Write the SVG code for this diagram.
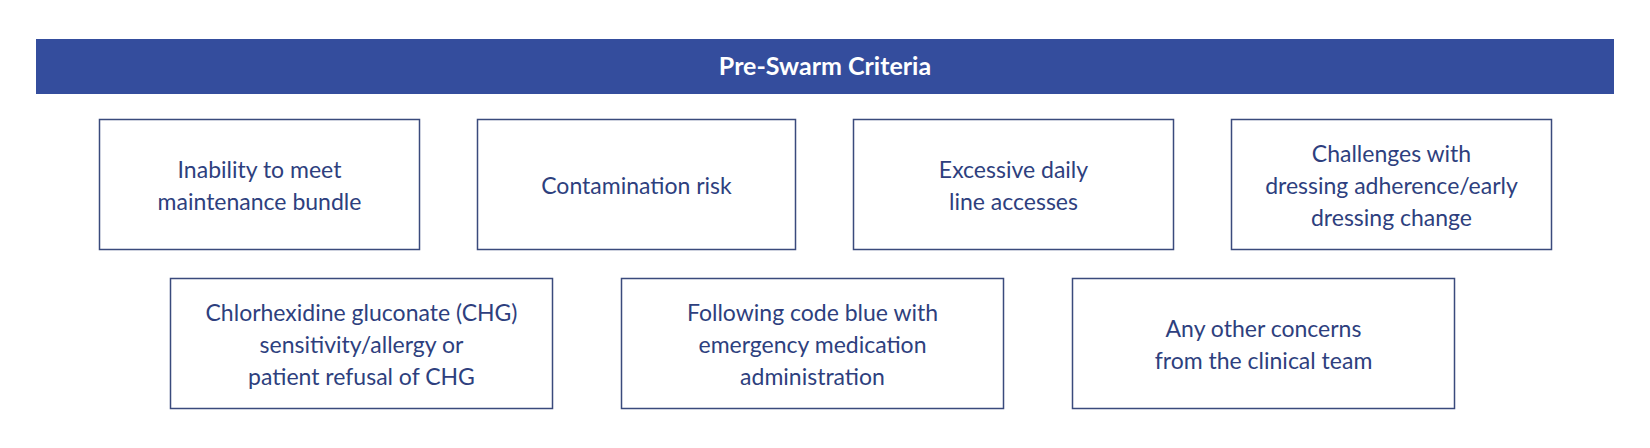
<svg xmlns="http://www.w3.org/2000/svg" width="1650" height="448" viewBox="0 0 1650 448">
<style>
.b{fill:#fff;stroke:#3a4a7c;stroke-width:1.5}
.t{font-family:Lato,"Liberation Sans",sans-serif;font-size:23px;fill:#2e3f7e;text-anchor:middle}
.h{font-family:Lato,"Liberation Sans",sans-serif;font-size:25px;font-weight:bold;fill:#fff;text-anchor:middle}
</style>
<rect width="1650" height="448" fill="#fff"/>
<g id="header"><rect x="36" y="39" width="1578" height="55" fill="#344d9d"/><text class="h" x="825" y="75">Pre-Swarm Criteria</text></g>
<g id="n1"><rect class="b" x="99.5" y="119.5" width="320" height="130"/><text class="t" x="259.5" y="178">Inability to meet</text><text class="t" x="259.5" y="210">maintenance bundle</text></g>
<g id="n2"><rect class="b" x="477.5" y="119.5" width="318" height="130"/><text class="t" x="636.5" y="194">Contamination risk</text></g>
<g id="n3"><rect class="b" x="853.5" y="119.5" width="320" height="130"/><text class="t" x="1013.5" y="178">Excessive daily</text><text class="t" x="1013.5" y="210">line accesses</text></g>
<g id="n4"><rect class="b" x="1231.5" y="119.5" width="320" height="130"/><text class="t" x="1391.5" y="162">Challenges with</text><text class="t" x="1391.5" y="194">dressing adherence/early</text><text class="t" x="1391.5" y="226">dressing change</text></g>
<g id="n5"><rect class="b" x="170.5" y="278.5" width="382" height="130"/><text class="t" x="361.5" y="321">Chlorhexidine gluconate (CHG)</text><text class="t" x="361.5" y="353">sensitivity/allergy or</text><text class="t" x="361.5" y="385">patient refusal of CHG</text></g>
<g id="n6"><rect class="b" x="621.5" y="278.5" width="382" height="130"/><text class="t" x="812.5" y="321">Following code blue with</text><text class="t" x="812.5" y="353">emergency medication</text><text class="t" x="812.5" y="385">administration</text></g>
<g id="n7"><rect class="b" x="1072.5" y="278.5" width="382" height="130"/><text class="t" x="1263.5" y="337">Any other concerns</text><text class="t" x="1263.5" y="369">from the clinical team</text></g>
<g id="connectors"></g>
</svg>
